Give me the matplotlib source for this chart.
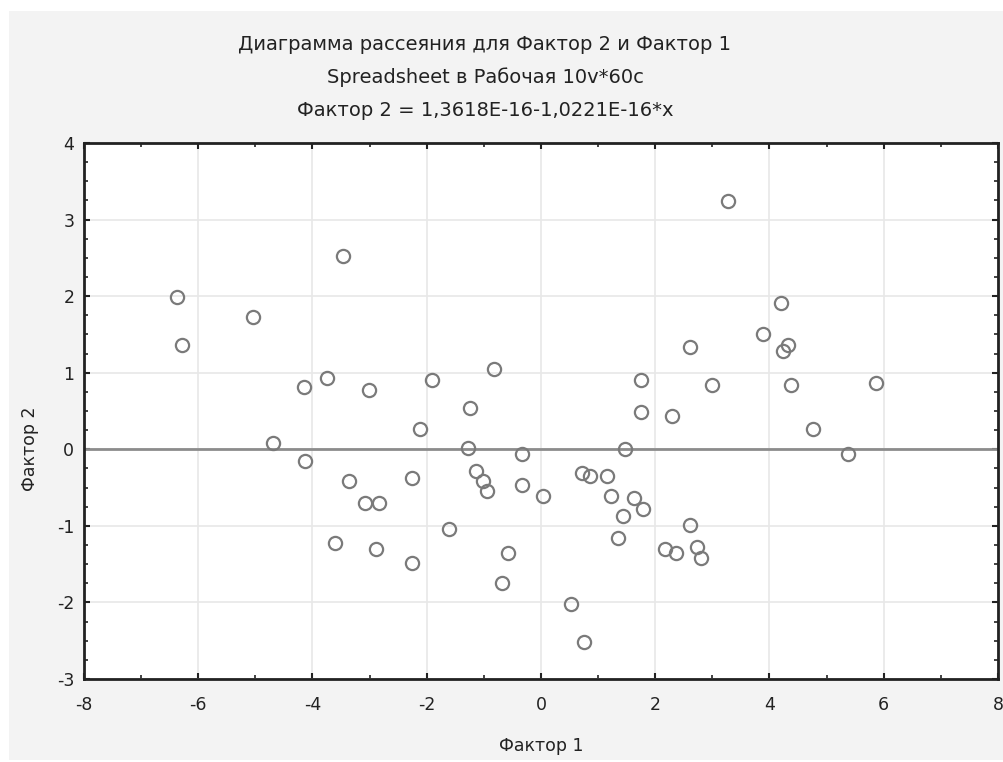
import matplotlib
matplotlib.use("Agg")
import matplotlib.pyplot as plt
from matplotlib.patches import Rectangle
from matplotlib.ticker import MultipleLocator
import numpy as np

plt.rcParams['font.family'] = ['DejaVu Sans']
plt.rcParams['axes.unicode_minus'] = False

title_lines = ["Диаграмма рассеяния для Фактор 2 и Фактор 1",
               "Spreadsheet в Рабочая 10v*60c",
               "Фактор 2 = 1,3618E-16-1,0221E-16*x"]
x_label = "Фактор 1"
y_label = "Фактор 2"

factor1 = [-6.38, -6.29, -5.05, -3.47, -4.15, -3.75, -3.01, -1.91, -0.82, -1.24,
           3.27, 4.21, 3.89, 4.33, 4.24, 2.61, 1.75, 2.99, 4.37, 5.86, 1.75, 2.29,
           -2.11, -4.70, -1.28, -4.14, -0.34, -3.36, -2.26, -1.13, -1.01, -0.94,
           -0.34, 0.04, -3.08, -2.84, -1.61, -3.60, -2.89, -2.26, -0.57, -0.69,
           1.47, 4.76, 5.38, 0.71, 0.85, 1.15, 1.23, 1.63, 1.78, 1.43, 2.61, 1.34,
           2.17, 2.36, 2.73, 2.80, 0.53, 0.76]
factor2 = [1.99, 1.36, 1.73, 2.52, 0.81, 0.93, 0.78, 0.90, 1.05, 0.54,
           3.24, 1.91, 1.51, 1.36, 1.28, 1.33, 0.91, 0.84, 0.84, 0.87, 0.49, 0.44,
           0.26, 0.08, 0.02, -0.15, -0.06, -0.41, -0.38, -0.29, -0.41, -0.55,
           -0.46, -0.61, -0.70, -0.70, -1.04, -1.22, -1.30, -1.48, -1.36, -1.74,
           0.00, 0.26, -0.06, -0.31, -0.35, -0.35, -0.61, -0.64, -0.78, -0.87, -0.99, -1.16,
           -1.30, -1.36, -1.27, -1.42, -2.02, -2.52]

intercept = 1.3618e-16
slope = -1.0221e-16

xlim = (-8, 8)
ylim = (-3, 4)

W, H = 1004, 762
fig = plt.figure(figsize=(W / 100, H / 100), dpi=100, facecolor='white')
bg = Rectangle((9 / W, 1 - 760 / H), (W - 9) / W, (760 - 11) / H,
               transform=fig.transFigure, facecolor='#f3f3f3',
               edgecolor='none', zorder=-10)
fig.add_artist(bg)

ax = fig.add_axes([84 / W, 1 - 679 / H, (998 - 84) / W, (679 - 143) / H])
ax.set_zorder(1)
ax.set_facecolor('white')

ax.set_xlim(*xlim)
ax.set_ylim(*ylim)
ax.xaxis.set_major_locator(MultipleLocator(2))
ax.xaxis.set_minor_locator(MultipleLocator(1))
ax.yaxis.set_major_locator(MultipleLocator(1))
ax.yaxis.set_minor_locator(MultipleLocator(0.25))
ax.grid(True, which='major', color='#e8e8e8', linewidth=1.2, zorder=0)
ax.set_axisbelow(True)

ax.tick_params(which='both', direction='in', top=True, right=True,
               color='#222222', labelsize=12.5, labelcolor='#222222')
ax.tick_params(which='major', length=4, width=1.5)
ax.tick_params(axis='x', which='major', pad=12)
ax.tick_params(axis='y', which='major', pad=7)
ax.tick_params(which='minor', length=3, width=1.2)
for s in ax.spines.values():
    s.set_linewidth(2)
    s.set_color('#222222')

xs = np.array(xlim)
ax.plot(xs, intercept + slope * xs, color='#8c8c8c', linewidth=2, zorder=2)
ax.plot(factor1, factor2, linestyle='none', marker='o', markersize=9.5,
        markerfacecolor='none', markeredgecolor='#7a7a7a', markeredgewidth=1.6, zorder=3)

ys = [44, 77, 111]
for t, yp in zip(title_lines, ys):
    fig.text(485 / W, 1 - yp / H, t, ha='center', va='center', fontsize=14, color='#222222')

fig.text(541 / W, 1 - 746 / H, x_label, ha='center', va='center', fontsize=12.5, color='#222222')
fig.text(30 / W, 1 - 449 / H, y_label, ha='center', va='center', rotation=90,
         fontsize=12.5, color='#222222')

fig.savefig('out.png', dpi=100, facecolor=fig.get_facecolor())
